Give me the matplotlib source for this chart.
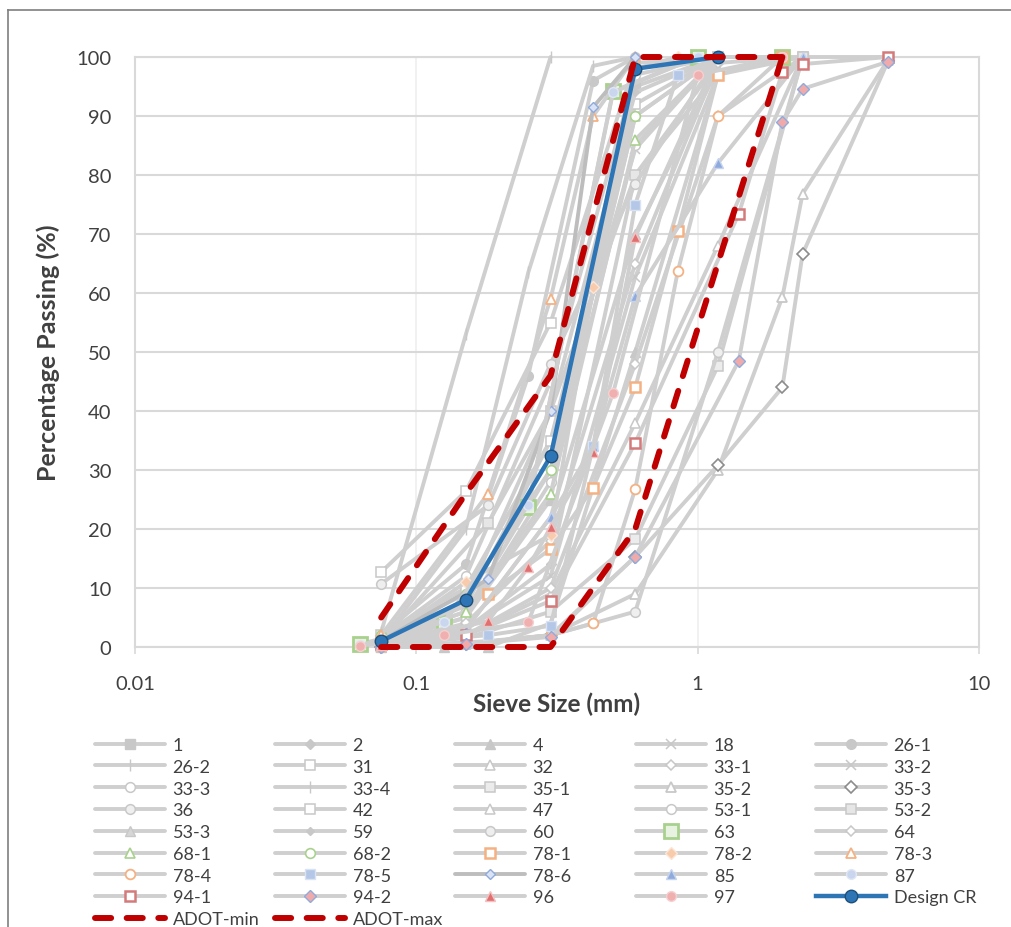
import matplotlib
matplotlib.use("Agg")
import matplotlib.pyplot as plt
from matplotlib.lines import Line2D
from matplotlib.ticker import FixedLocator, FixedFormatter, NullLocator

plt.rcParams['font.family'] = ['Lato', 'DejaVu Sans']

# ---------------- data (sieve size in mm, percent passing) ----------------
x_1 = [0.075, 0.15, 0.3, 0.6, 1.18, 2.36]
p_1 = [1, 5, 25, 95, 100, 100]
x_2 = [0.075, 0.15, 0.3, 0.6, 1.18, 2.36, 4.75]
p_2 = [0.5, 3, 14, 80, 99, 100, 100]
x_4 = [0.075, 0.125, 0.18, 0.3, 0.6, 1.18]
p_4 = [0, 0, 0, 4, 50, 97]
x_18 = [0.075, 0.15, 0.3, 0.6, 1.18]
p_18 = [0.5, 3, 12, 62.7, 97]
x_26_1 = [0.075, 0.15, 0.25, 0.425, 0.6]
p_26_1 = [2, 14, 46, 96, 100]
x_26_2 = [0.075, 0.15, 0.3]
p_26_2 = [2.5, 53, 100]
x_31 = [0.075, 0.15, 0.3, 0.6, 1.18]
p_31 = [12.7, 26.4, 55, 99, 100]
x_32 = [0.075, 0.15, 0.3, 0.6, 1.18, 2.36]
p_32 = [0.3, 2, 9, 38, 68, 100]
x_33_1 = [0.075, 0.15, 0.3, 0.6, 1.18, 2.36]
p_33_1 = [0.5, 2, 10, 48, 90, 100]
x_33_2 = [0.075, 0.15, 0.3, 0.6, 1.18]
p_33_2 = [1, 7, 35, 84.4, 100]
x_33_3 = [0.075, 0.15, 0.3, 0.6, 1.18]
p_33_3 = [1.5, 12, 45, 97, 100]
x_33_4 = [0.075, 0.15, 0.25, 0.425, 0.6]
p_33_4 = [1, 20, 63.5, 98.5, 100]
x_35_1 = [0.075, 0.15, 0.3, 0.6, 1.18, 2.36]
p_35_1 = [0.3, 1.5, 6, 18.3, 47.6, 100]
x_35_2 = [0.075, 0.15, 0.3, 0.6, 1.18, 2.0, 2.36, 4.75]
p_35_2 = [0, 0.5, 2, 9, 30, 59.3, 76.8, 99.5]
x_35_3 = [0.075, 0.15, 0.3, 0.6, 1.18, 2.0, 2.36, 4.75]
p_35_3 = [0, 0.5, 2, 15.3, 30.8, 44, 66.6, 99.3]
x_36 = [0.075, 0.15, 0.3, 0.425, 0.6, 1.18, 2.36]
p_36 = [0, 0.5, 2, 4, 6, 50, 100]
x_42 = [0.075, 0.15, 0.3, 0.6, 1.18]
p_42 = [2, 10, 35, 92, 100]
x_47 = [0.075, 0.15, 0.3, 0.6, 1.18]
p_47 = [1, 6, 30, 90, 100]
x_53_1 = [0.075, 0.15, 0.3, 0.6, 1.18]
p_53_1 = [0.5, 5, 28, 85, 100]
x_53_2 = [0.075, 0.18, 0.3, 0.6, 1.18, 2.36]
p_53_2 = [1, 21, 40, 80, 97, 100]
x_53_3 = [0.075, 0.15, 0.3, 0.6, 1.18]
p_53_3 = [0.5, 3, 22, 70, 98]
x_59 = [0.075, 0.15, 0.3, 0.6, 1.18]
p_59 = [1, 8, 40, 94, 100]
x_60 = [0.075, 0.18, 0.3, 0.6, 1.18]
p_60 = [10.7, 24, 48, 78.5, 100]
x_63 = [0.063, 0.125, 0.25, 0.5, 1.0, 2.0]
p_63 = [0.5, 4, 23.7, 94.2, 100, 100]
x_64 = [0.075, 0.15, 0.3, 0.6, 1.18]
p_64 = [0.5, 4, 18, 65, 99]
x_68_1 = [0.075, 0.15, 0.3, 0.6, 1.18]
p_68_1 = [1, 6, 26, 86, 100]
x_68_2 = [0.075, 0.15, 0.3, 0.6, 1.18]
p_68_2 = [2, 9, 30, 90, 100]
x_78_1 = [0.075, 0.18, 0.3, 0.425, 0.6, 0.85, 1.18, 2.0]
p_78_1 = [1, 9, 16.6, 27, 44, 70.5, 97, 100]
x_78_2 = [0.075, 0.15, 0.3, 0.425, 0.6, 0.85]
p_78_2 = [1, 11, 19, 61, 98, 100]
x_78_3 = [0.075, 0.18, 0.3, 0.425, 0.6]
p_78_3 = [2, 26, 59, 90, 100]
x_78_4 = [0.075, 0.18, 0.3, 0.425, 0.6, 0.85, 1.18, 2.0]
p_78_4 = [0, 1, 2, 4, 26.8, 63.7, 90, 100]
x_78_5 = [0.075, 0.18, 0.3, 0.425, 0.6, 0.85, 1.18]
p_78_5 = [0.5, 2, 3.6, 34, 75, 97, 100]
x_78_6 = [0.075, 0.18, 0.3, 0.425, 0.6]
p_78_6 = [1, 11.5, 40, 91.5, 100]
x_85 = [0.075, 0.15, 0.3, 0.425, 0.6, 1.18, 2.36]
p_85 = [0.5, 3, 22, 34, 59.5, 82, 100]
x_87 = [0.063, 0.125, 0.25, 0.5, 1.0, 2.0]
p_87 = [0.3, 4.2, 24, 94, 100, 100]
x_94_1 = [0.075, 0.15, 0.3, 0.6, 1.4, 2.0, 2.36, 4.75]
p_94_1 = [0.5, 2, 7.8, 34.6, 73.4, 97.5, 98.8, 100]
x_94_2 = [0.075, 0.15, 0.3, 0.6, 1.4, 2.0, 2.36, 4.75]
p_94_2 = [0, 0.5, 1.7, 15.3, 48.5, 89, 94.6, 99.2]
x_96 = [0.075, 0.18, 0.25, 0.3, 0.425, 0.6, 1.18]
p_96 = [0.3, 4.4, 13.5, 20.3, 33, 69.5, 100]
x_97 = [0.063, 0.125, 0.25, 0.5, 1.0, 2.0]
p_97 = [0.2, 2, 4.2, 43, 97, 100]

x_design = [0.075, 0.15, 0.3, 0.6, 1.18]
p_design = [1, 8, 32.3, 98, 100]
x_adot = [0.075, 0.15, 0.3, 0.6, 1.18, 2.0]
p_adot_min = [0, 0, 0, 20, 65, 100]
p_adot_max = [5, 26, 46, 100, 100, 100]

x_ticks = [0.01, 0.1, 1, 10]
x_tick_labels = ["0.01", "0.1", "1", "10"]
y_ticks = list(range(0, 101, 10))

gray_names = ["1", "2", "4", "18", "26-1", "26-2", "31", "32", "33-1", "33-2",
              "33-3", "33-4", "35-1", "35-2", "35-3", "36", "42", "47", "53-1", "53-2",
              "53-3", "59", "60", "63", "64", "68-1", "68-2", "78-1", "78-2", "78-3",
              "78-4", "78-5", "78-6", "85", "87", "94-1", "94-2", "96", "97"]
gray_x = [x_1, x_2, x_4, x_18, x_26_1, x_26_2, x_31, x_32, x_33_1, x_33_2,
          x_33_3, x_33_4, x_35_1, x_35_2, x_35_3, x_36, x_42, x_47, x_53_1, x_53_2,
          x_53_3, x_59, x_60, x_63, x_64, x_68_1, x_68_2, x_78_1, x_78_2, x_78_3,
          x_78_4, x_78_5, x_78_6, x_85, x_87, x_94_1, x_94_2, x_96, x_97]
gray_y = [p_1, p_2, p_4, p_18, p_26_1, p_26_2, p_31, p_32, p_33_1, p_33_2,
          p_33_3, p_33_4, p_35_1, p_35_2, p_35_3, p_36, p_42, p_47, p_53_1, p_53_2,
          p_53_3, p_59, p_60, p_63, p_64, p_68_1, p_68_2, p_78_1, p_78_2, p_78_3,
          p_78_4, p_78_5, p_78_6, p_85, p_87, p_94_1, p_94_2, p_96, p_97]

# ---------------- styles ----------------
G = "#cfcfcf"
GE = "#c8c8c8"
W = "white"
# marker, size, face, edge, edge width
mstyle = {
    "1": ("s", 7, GE, GE, 1), "2": ("D", 5.5, GE, GE, 1), "4": ("^", 7, GE, GE, 1),
    "18": ("x", 7, GE, GE, 1.1), "26-1": ("o", 7, GE, GE, 1), "26-2": ("|", 9, GE, GE, 1),
    "31": ("s", 7, W, GE, 1.1), "32": ("^", 7, W, GE, 1.1), "33-1": ("D", 5.5, W, GE, 1.1),
    "33-2": ("x", 7, GE, GE, 1.1), "33-3": ("o", 7, W, GE, 1.1), "33-4": ("|", 9, GE, GE, 1),
    "35-1": ("s", 7, "#ececec", GE, 1.1), "35-2": ("^", 7, W, GE, 1.3), "35-3": ("D", 6.5, W, "#8c8c8c", 1.2),
    "36": ("o", 7, "#efefef", GE, 1.1), "42": ("s", 7, W, GE, 1.1), "47": ("^", 7, W, GE, 1.1),
    "53-1": ("o", 7, W, GE, 1.1), "53-2": ("s", 7, "#e6e6e6", GE, 1.1), "53-3": ("^", 7, "#d6d6d6", GE, 1),
    "59": ("D", 4.5, GE, GE, 1), "60": ("o", 7, "#eeeeee", GE, 1.1), "63": ("s", 9.5, "#e8f2e1", "#a9d18e", 2),
    "64": ("D", 5.5, W, GE, 1.1), "68-1": ("^", 7, W, "#a9d18e", 1.2), "68-2": ("o", 7, W, "#a9d18e", 1.2),
    "78-1": ("s", 7, W, "#f4b183", 1.8), "78-2": ("D", 6.5, "#f8cbad", "#fbe5d6", 1), "78-3": ("^", 7, W, "#f4b183", 1.3),
    "78-4": ("o", 7, W, "#f4b183", 1.3), "78-5": ("s", 7, "#b4c7e7", "#dae3f3", 1), "78-6": ("D", 5.5, "#dae3f3", "#8faadc", 1),
    "85": ("^", 7, "#8faadc", "#c5d3ee", 1), "87": ("o", 7, "#c9d6ee", "#dfe7f5", 1), "94-1": ("s", 7, W, "#d47a7a", 1.8),
    "94-2": ("D", 6.5, "#f1aaaa", "#8faadc", 1), "96": ("^", 7, "#e07070", "#f4c0c0", 1), "97": ("o", 7, "#f0b0b0", "#f6d0d0", 1),
}

fig = plt.figure(figsize=(10.11, 9.28), dpi=100)
ax = fig.add_axes([135 / 1011, 1 - 648 / 928, (979 - 135) / 1011, (648 - 58) / 928])
ax.set_xscale("log")
ax.set_xlim(0.01, 10)
ax.set_ylim(0, 100)

handles = {}
for name, xs, ys in zip(gray_names, gray_x, gray_y):
    m, ms, fc, ec, mew = mstyle[name]
    lc = "#bdbdbd" if name == "78-6" else G
    ln, = ax.plot(xs, ys, color=lc, lw=2.8, marker=m, ms=ms, mfc=fc, mec=ec, mew=mew,
                  clip_on=False, zorder=3, solid_capstyle="round", solid_joinstyle="round")
    handles[name] = ln

ln, = ax.plot(x_design, p_design, color="#2e75b6", lw=3.2, marker="o", ms=9,
              mfc="#2e75b6", mec="#1f4e79", mew=1, clip_on=False, zorder=5)
handles["Design CR"] = ln
for key, vals in (("ADOT-min", p_adot_min), ("ADOT-max", p_adot_max)):
    ln, = ax.plot(x_adot, vals, color="#c00000", lw=4.3, dashes=(2.7, 2.6),
                  dash_capstyle="round", clip_on=False, zorder=6)
    handles[key] = ln

# axes styling
ax.yaxis.set_major_locator(FixedLocator(y_ticks))
ax.xaxis.set_major_locator(FixedLocator(x_ticks))
ax.xaxis.set_major_formatter(FixedFormatter(x_tick_labels))
ax.xaxis.set_minor_locator(NullLocator())
ax.grid(axis="y", color="#d9d9d9", lw=1.5, zorder=0)
ax.grid(axis="x", color="#efefef", lw=1.2, zorder=0)
for s in ax.spines.values():
    s.set_color("#d9d9d9")
    s.set_linewidth(1.5)
ax.tick_params(axis="y", length=0, pad=17, labelsize=14.5, labelcolor="#404040")
ax.tick_params(axis="x", length=5, width=1.2, color="#d9d9d9", pad=15, labelsize=14.5, labelcolor="#404040")
ax.set_xlabel("Sieve Size (mm)", fontsize=17.5, fontweight="bold", color="#404040", labelpad=0)
ax.set_ylabel("Percentage Passing (%)", fontsize=18, fontweight="bold", color="#404040", labelpad=12)

# legend: Excel fills row-wise, 5 columns
order = gray_names + ["Design CR", "ADOT-min", "ADOT-max"]
cols = [order[c::5] for c in range(5)]
col_x = [95, 275, 455, 636, 816]
for cx, names in zip(col_x, cols):
    leg = fig.legend([handles[n] for n in names], names, loc="upper left",
                     bbox_to_anchor=(cx / 1011, 1 - 738 / 928), frameon=False,
                     fontsize=13, handlelength=3.9, handletextpad=0.4,
                     labelspacing=0.32, borderpad=0, borderaxespad=0)
    for t in leg.get_texts():
        t.set_color("#404040")

# chart border (left and top visible)
fig.add_artist(Line2D([8 / 1011, 8 / 1011], [0, 1 - 11 / 928], color="#7f7f7f", lw=1.2))
fig.add_artist(Line2D([8 / 1011, 1], [1 - 11 / 928, 1 - 11 / 928], color="#7f7f7f", lw=1.2))

fig.savefig("out.png", dpi=100)
